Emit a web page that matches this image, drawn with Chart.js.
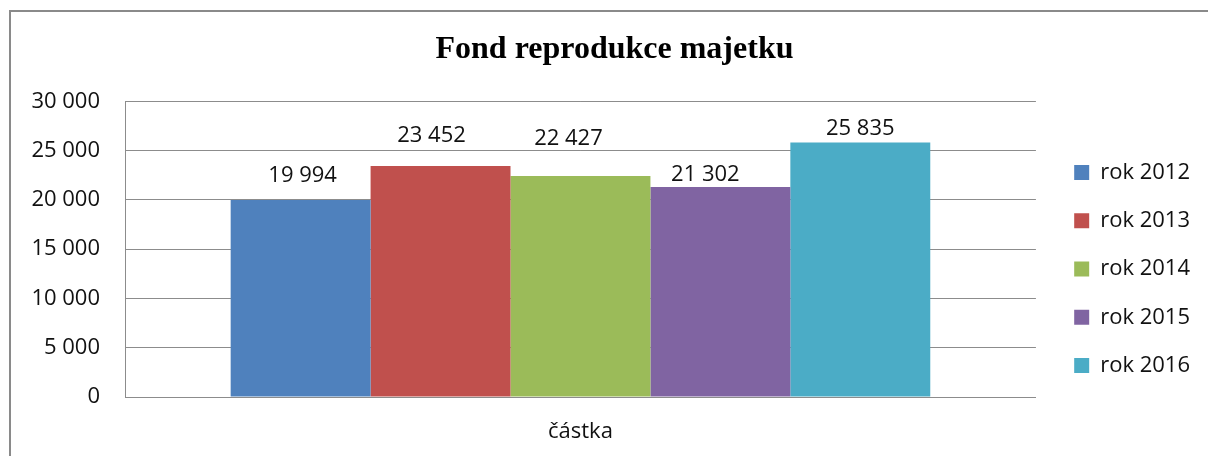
<!DOCTYPE html>
<html>
<head>
<meta charset="utf-8">
<script src="https://cdn.jsdelivr.net/npm/chart.js@4/dist/chart.umd.min.js"></script>
<style>
  html, body { margin: 0; padding: 0; background: #ffffff; overflow: hidden; width: 1208px; height: 456px; }
  #frame { position: absolute; left: 9px; top: 10px; width: 1400px; height: 800px; border-left: 2px solid #8a8a8a; border-top: 2px solid #8a8a8a; }
  #c { position: absolute; left: 0; top: 0; }
</style>
</head>
<body>
<div id="frame"></div>
<canvas id="c" width="1208" height="456"></canvas>
<script>
// ---- data ----
const categories = ['částka'];
const seriesNames = ['rok 2012', 'rok 2013', 'rok 2014', 'rok 2015', 'rok 2016'];
const values2012 = [19994];
const values2013 = [23452];
const values2014 = [22427];
const values2015 = [21302];
const values2016 = [25835];
const seriesValues = [values2012, values2013, values2014, values2015, values2016];
const colors = ['#4F81BD', '#C0504D', '#9BBB59', '#8064A2', '#4BACC6'];
const yMin = 0, yMax = 30000, yStep = 5000;
const titleText = 'Fond reprodukce majetku';

function fmt(v) {
  return String(Math.round(v)).replace(/\B(?=(\d{3})+(?!\d))/g, ' ');
}

const FONT = "'Open Sans', 'Noto Sans', sans-serif";
const TXT = '#111111';
const GRID = '#8c8c8c';

const valueLabels = {
  id: 'valueLabels',
  afterDatasetsDraw(chart, args, opts) {
    const ctx = chart.ctx;
    ctx.save();
    ctx.font = '22px ' + FONT;
    ctx.fillStyle = TXT;
    ctx.textAlign = 'center';
    ctx.textBaseline = 'middle';
    chart.data.datasets.forEach((ds, i) => {
      const meta = chart.getDatasetMeta(i);
      meta.data.forEach((bar, j) => {
        const dx = (opts.dx && opts.dx[i]) || 0;
        const dy = (opts.dy && opts.dy[i]) || 24;
        ctx.fillText(fmt(ds.data[j]), bar.x + dx, bar.y - dy);
      });
    });
    ctx.restore();
  }
};

const boxNudge = {
  id: 'boxNudge',
  afterLayout(chart, args, opts) {
    const lg = chart.legend;
    if (lg) {
      lg.left += opts.legendDx; lg.right += opts.legendDx;
      lg.top += opts.legendDy; lg.bottom += opts.legendDy;
    }
    const tb = chart.titleBlock;
    if (tb) {
      tb.left += opts.titleDx; tb.right += opts.titleDx;
    }
  }
};

Chart.defaults.font.family = FONT;
Chart.defaults.font.size = 22;
Chart.defaults.color = TXT;

new Chart(document.getElementById('c'), {
  type: 'bar',
  data: {
    labels: categories,
    datasets: seriesNames.map((name, i) => ({
      label: name,
      data: seriesValues[i],
      backgroundColor: colors[i],
      borderColor: colors[i],
      borderWidth: 0,
      categoryPercentage: 0.768,
      barPercentage: 1.0
    }))
  },
  options: {
    responsive: false,
    devicePixelRatio: 1,
    animation: false,
    events: [],
    layout: { padding: { left: 25, right: 20, top: 0, bottom: 0 } },
    plugins: {
      title: {
        display: true,
        text: titleText,
        color: '#000000',
        font: { family: "'Liberation Serif', 'Times New Roman', serif", size: 32, weight: 'bold', lineHeight: 1.2 },
        padding: { top: 31, bottom: 32 }
      },
      legend: {
        display: true,
        position: 'right',
        align: 'center',
        labels: {
          boxWidth: 15,
          boxHeight: 15,
          padding: 26.25,
          color: TXT,
          font: { size: 22, family: FONT }
        }
      },
      tooltip: { enabled: false },
      valueLabels: { dx: [2, -9, -12, -15, 0], dy: [24, 30, 37, 12, 14] },
      boxNudge: { legendDx: 12, legendDy: 41, titleDx: 8 }
    },
    scales: {
      x: {
        grid: { display: false, drawTicks: false },
        border: { display: true, color: GRID, width: 1 },
        ticks: { padding: 22, color: TXT, font: { size: 22 } },
        afterFit(scale) { scale.height = 59; }
      },
      y: {
        min: yMin,
        max: yMax,
        grid: { color: GRID, lineWidth: 1, drawTicks: false },
        border: { display: true, color: GRID, width: 1 },
        ticks: { stepSize: yStep, padding: 25, color: TXT, font: { size: 22 }, callback: (v) => fmt(v) },
        afterFit(scale) { scale.width = 100; }
      }
    }
  },
  plugins: [valueLabels, boxNudge]
});
</script>
</body>
</html>
